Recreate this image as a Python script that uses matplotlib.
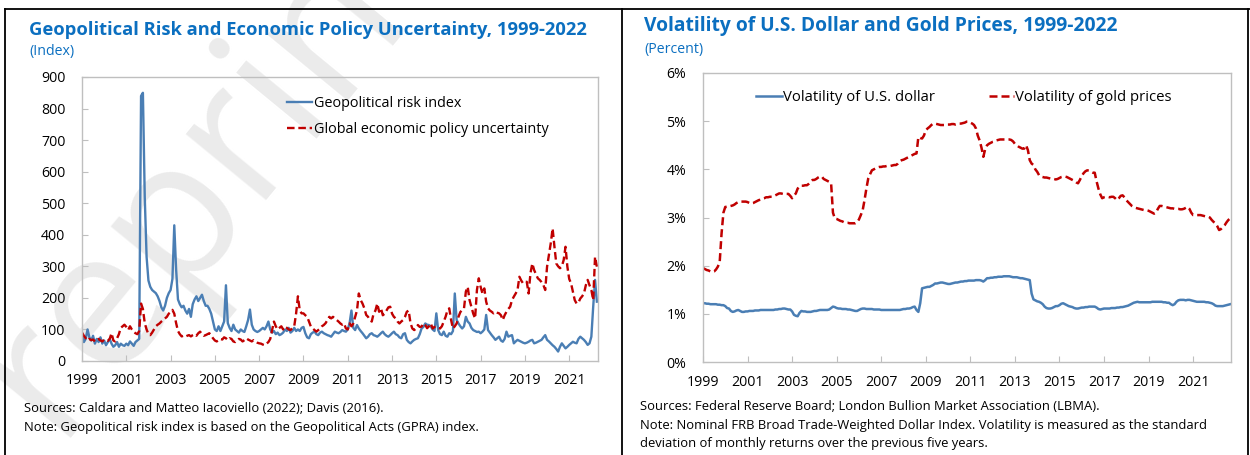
import numpy as np
import matplotlib.pyplot as plt
from matplotlib.lines import Line2D

plt.rcParams['font.family'] = ['Open Sans', 'DejaVu Sans']

# monthly, Jan 1999 - Apr 2022
gpr = [
    85, 60, 70, 100, 75, 65, 80, 55, 70, 60, 75, 55,            # 1999
    65, 50, 60, 70, 55, 45, 50, 60, 45, 55, 50, 48,             # 2000
    55, 50, 62, 55, 48, 60, 65, 70, 840, 850, 520, 330,         # 2001
    255, 235, 225, 220, 215, 205, 190, 170, 160, 175, 200, 215, # 2002
    225, 260, 430, 290, 195, 180, 170, 175, 160, 150, 165, 140, # 2003
    180, 195, 205, 190, 200, 210, 190, 175, 175, 165, 150, 125, # 2004
    100, 95, 110, 95, 110, 125, 240, 120, 105, 95, 115, 100,    # 2005
    95, 90, 100, 95, 92, 110, 130, 163, 115, 100, 95, 92,       # 2006
    95, 100, 105, 100, 110, 125, 100, 90, 95, 85, 90, 82,       # 2007
    85, 90, 100, 95, 105, 90, 95, 105, 95, 100, 95, 105,        # 2008
    108, 88, 75, 72, 85, 90, 93, 85, 82, 90, 93, 88,            # 2009
    85, 82, 80, 77, 85, 93, 90, 88, 92, 98, 95, 93,             # 2010
    100, 120, 160, 105, 98, 114, 103, 95, 88, 80, 72, 77,       # 2011
    85, 88, 82, 80, 77, 82, 88, 93, 85, 80, 77, 82,             # 2012
    88, 93, 85, 82, 75, 72, 85, 88, 67, 60, 56, 62,             # 2013
    67, 70, 72, 85, 103, 108, 119, 115, 114, 109, 100, 95,      # 2014
    151, 98, 85, 82, 93, 80, 77, 88, 85, 95, 214, 130,          # 2015
    119, 110, 103, 110, 140, 125, 119, 105, 98, 95, 92, 93,     # 2016
    88, 93, 100, 146, 98, 90, 82, 75, 67, 72, 77, 65,           # 2017
    61, 70, 93, 77, 80, 82, 56, 62, 67, 64, 61, 58,             # 2018
    56, 58, 61, 65, 67, 56, 58, 61, 64, 67, 75, 82,             # 2019
    67, 62, 56, 50, 45, 38, 30, 45, 56, 48, 40, 45,             # 2020
    51, 56, 61, 58, 56, 70, 77, 72, 67, 60, 51, 56,             # 2021
    77, 172, 257, 188,                                          # 2022
]
epu = [
    90, 80, 72, 65, 70, 66, 68, 62, 66, 70, 65, 62,
    68, 66, 64, 70, 88, 65, 62, 72, 85, 105, 110, 115,
    108, 98, 110, 100, 92, 88, 85, 95, 182, 165, 120, 100,
    85, 82, 90, 100, 110, 115, 119, 125, 130, 135, 140, 150,
    155, 162, 150, 120, 95, 85, 78, 80, 77, 80, 82, 78,
    82, 85, 80, 88, 93, 85, 80, 82, 85, 88, 80, 72,
    65, 62, 66, 70, 68, 75, 72, 66, 72, 70, 62, 60,
    65, 70, 68, 62, 66, 72, 68, 65, 62, 66, 62, 58,
    56, 55, 52, 50, 55, 60, 70, 98, 125, 110, 100, 105,
    110, 100, 109, 105, 100, 98, 105, 110, 150, 205, 160, 151,
    151, 145, 140, 125, 109, 103, 98, 93, 98, 103, 110, 114,
    120, 130, 140, 135, 140, 135, 130, 125, 119, 115, 119, 103,
    100, 119, 110, 119, 140, 160, 214, 193, 182, 167, 146, 140,
    130, 125, 150, 160, 182, 156, 167, 145, 150, 160, 170, 172,
    150, 140, 135, 125, 119, 125, 130, 140, 156, 160, 120, 103,
    98, 103, 114, 108, 109, 119, 114, 104, 110, 119, 103, 108,
    109, 105, 103, 110, 125, 140, 160, 167, 130, 103, 110, 119,
    140, 155, 162, 167, 220, 235, 193, 172, 150, 135, 225, 262,
    235, 214, 230, 188, 167, 160, 156, 151, 156, 153, 151, 145,
    130, 145, 156, 165, 172, 193, 204, 214, 225, 267, 255, 246,
    250, 251, 214, 278, 309, 288, 275, 262, 257, 250, 241, 225,
    299, 335, 373, 420, 362, 309, 300, 294, 300, 320, 362, 299,
    260, 246, 220, 193, 182, 185, 198, 205, 214, 240, 257, 240,
    225, 193, 330, 299,
]

# monthly, Jan 1999 - Sep 2022 (percent)
usd_vol = [
    1.22, 1.22, 1.21, 1.21, 1.20, 1.20, 1.20, 1.20, 1.19, 1.19, 1.18, 1.18,
    1.16, 1.12, 1.11, 1.06, 1.04, 1.05, 1.07, 1.08, 1.06, 1.04, 1.04, 1.05,
    1.05, 1.06, 1.06, 1.06, 1.07, 1.07, 1.07, 1.08, 1.08, 1.08, 1.08, 1.08,
    1.08, 1.08, 1.08, 1.09, 1.09, 1.10, 1.10, 1.11, 1.11, 1.10, 1.09, 1.09,
    1.05, 0.98, 0.96, 0.95, 1.02, 1.06, 1.05, 1.05, 1.04, 1.04, 1.04, 1.05,
    1.06, 1.06, 1.07, 1.08, 1.08, 1.08, 1.08, 1.08, 1.09, 1.12, 1.15, 1.14,
    1.12, 1.11, 1.11, 1.10, 1.10, 1.10, 1.09, 1.09, 1.08, 1.07, 1.06, 1.06,
    1.08, 1.10, 1.11, 1.11, 1.10, 1.10, 1.10, 1.10, 1.09, 1.09, 1.09, 1.09,
    1.08, 1.08, 1.08, 1.08, 1.08, 1.08, 1.08, 1.08, 1.08, 1.08, 1.08, 1.09,
    1.10, 1.10, 1.11, 1.11, 1.12, 1.14, 1.15, 1.08, 1.04, 1.22, 1.53, 1.54,
    1.55, 1.56, 1.56, 1.58, 1.60, 1.63, 1.63, 1.64, 1.65, 1.65, 1.64, 1.63,
    1.62, 1.62, 1.63, 1.64, 1.65, 1.65, 1.66, 1.67, 1.67, 1.68, 1.68, 1.69,
    1.69, 1.69, 1.69, 1.70, 1.70, 1.70, 1.69, 1.67, 1.70, 1.74, 1.74, 1.75,
    1.75, 1.76, 1.76, 1.77, 1.77, 1.77, 1.78, 1.78, 1.78, 1.78, 1.77, 1.76,
    1.76, 1.76, 1.75, 1.74, 1.74, 1.73, 1.72, 1.71, 1.70, 1.42, 1.30, 1.28,
    1.26, 1.25, 1.23, 1.20, 1.15, 1.12, 1.11, 1.11, 1.12, 1.14, 1.16, 1.16,
    1.18, 1.21, 1.22, 1.20, 1.18, 1.16, 1.15, 1.14, 1.12, 1.11, 1.11, 1.12,
    1.13, 1.13, 1.14, 1.14, 1.15, 1.15, 1.15, 1.15, 1.13, 1.10, 1.09, 1.10,
    1.11, 1.11, 1.11, 1.11, 1.12, 1.12, 1.12, 1.13, 1.13, 1.14, 1.14, 1.15,
    1.16, 1.17, 1.19, 1.21, 1.23, 1.24, 1.25, 1.24, 1.24, 1.24, 1.24, 1.24,
    1.24, 1.24, 1.25, 1.25, 1.25, 1.25, 1.25, 1.25, 1.24, 1.24, 1.23, 1.23,
    1.20, 1.18, 1.20, 1.25, 1.28, 1.29, 1.29, 1.29, 1.28, 1.29, 1.29, 1.28,
    1.27, 1.26, 1.25, 1.25, 1.25, 1.25, 1.25, 1.24, 1.24, 1.23, 1.22, 1.20,
    1.17, 1.16, 1.16, 1.16, 1.16, 1.17, 1.18, 1.19, 1.20,
]
gold_vol = [
    1.95, 1.93, 1.91, 1.90, 1.88, 1.87, 1.88, 1.92, 1.98, 2.08, 2.67, 3.10,
    3.22, 3.22, 3.23, 3.24, 3.25, 3.27, 3.30, 3.32, 3.33, 3.33, 3.33, 3.33,
    3.32, 3.30, 3.29, 3.30, 3.32, 3.34, 3.36, 3.37, 3.39, 3.40, 3.42, 3.42,
    3.43, 3.43, 3.44, 3.46, 3.48, 3.50, 3.50, 3.49, 3.48, 3.49, 3.49, 3.45,
    3.40, 3.45, 3.50, 3.60, 3.65, 3.66, 3.66, 3.67, 3.67, 3.70, 3.74, 3.78,
    3.78, 3.80, 3.83, 3.85, 3.85, 3.80, 3.78, 3.76, 3.74, 3.71, 3.10, 2.98,
    2.97, 2.95, 2.93, 2.92, 2.90, 2.89, 2.89, 2.88, 2.88, 2.88, 2.88, 2.90,
    2.96, 3.05, 3.15, 3.36, 3.60, 3.81, 3.90, 3.98, 4.00, 4.02, 4.04, 4.05,
    4.05, 4.06, 4.06, 4.07, 4.07, 4.07, 4.08, 4.09, 4.09, 4.12, 4.17, 4.19,
    4.20, 4.22, 4.24, 4.26, 4.28, 4.30, 4.32, 4.33, 4.67, 4.65, 4.64, 4.70,
    4.81, 4.85, 4.88, 4.92, 4.95, 4.95, 4.94, 4.93, 4.92, 4.92, 4.92, 4.93,
    4.93, 4.93, 4.94, 4.94, 4.93, 4.94, 4.95, 4.95, 4.96, 4.97, 4.99, 4.99,
    4.97, 4.95, 4.92, 4.85, 4.70, 4.60, 4.45, 4.26, 4.42, 4.50, 4.53, 4.55,
    4.57, 4.58, 4.60, 4.61, 4.62, 4.62, 4.62, 4.62, 4.62, 4.62, 4.61, 4.58,
    4.53, 4.50, 4.47, 4.45, 4.43, 4.43, 4.50, 4.40, 4.19, 4.12, 4.09, 4.00,
    3.95, 3.88, 3.85, 3.84, 3.83, 3.83, 3.82, 3.81, 3.80, 3.80, 3.79, 3.80,
    3.82, 3.84, 3.85, 3.85, 3.84, 3.82, 3.80, 3.78, 3.76, 3.73, 3.71, 3.78,
    3.86, 3.92, 3.96, 3.98, 3.97, 3.95, 3.93, 3.93, 3.75, 3.60, 3.48, 3.40,
    3.42, 3.43, 3.43, 3.42, 3.43, 3.43, 3.40, 3.36, 3.40, 3.45, 3.46, 3.42,
    3.36, 3.32, 3.28, 3.24, 3.22, 3.20, 3.19, 3.18, 3.17, 3.16, 3.15, 3.15,
    3.14, 3.12, 3.10, 3.08, 3.10, 3.18, 3.24, 3.24, 3.23, 3.22, 3.21, 3.20,
    3.19, 3.19, 3.18, 3.18, 3.18, 3.17, 3.17, 3.18, 3.20, 3.22, 3.18, 3.10,
    3.05, 3.05, 3.05, 3.05, 3.05, 3.04, 3.03, 3.02, 3.02, 3.00, 2.95, 2.91,
    2.88, 2.82, 2.74, 2.76, 2.80, 2.84, 2.90, 2.95, 2.98,
]

year_ticks = list(range(1999, 2022, 2))
left_yticks = list(range(0, 1000, 100))
right_yticks = [0, 1, 2, 3, 4, 5, 6]

BLUE = '#4A7EB4'
RED = '#C00000'
TITLE_BLUE = '#0B6FC0'
GRID = '#BFBFBF'
dash = (0, (3.2, 1.6))

x_left = 1999 + np.arange(len(gpr)) / 12
x_right = 1999 + np.arange(len(gold_vol)) / 12

W, H = 1250, 455
fig = plt.figure(figsize=(12.5, 4.55), dpi=100)

def fx(px):
    return px / W

def fy(py):
    return 1 - py / H

# watermark
fig.text(fx(176), fy(207), 'Preprint', rotation=50.6, fontsize=140,
         color='#EBEBEB', ha='center', va='center', zorder=-5)

# panel frames
for xs, ys in [([5, 1250], [9, 9]), ([5, 5], [9, 455]), ([622, 622], [9, 455]),
               ([1248, 1248], [9, 455])]:
    fig.add_artist(Line2D([fx(v) for v in xs], [fy(v) for v in ys],
                          color='black', lw=1.3))

def style_axes(ax):
    ax.set_facecolor('none')
    for s in ax.spines.values():
        s.set_color(GRID)
        s.set_linewidth(1.0)
    ax.tick_params(direction='in', length=4, color=GRID, labelsize=10.2,
                   labelcolor='black')
    ax.tick_params(axis='y', pad=12)
    ax.tick_params(axis='x', pad=9)
    ax.set_xticks(year_ticks)
    ax.set_xticklabels([str(y) for y in year_ticks])

# left chart
ax1 = fig.add_axes([fx(82), fy(361), fx(598 - 82), (361 - 77) / H])
style_axes(ax1)
ax1.plot(x_left, gpr, color=BLUE, lw=1.7, label='Geopolitical risk index')
ax1.plot(x_left, epu, color=RED, lw=1.7, ls=dash,
         label='Global economic policy uncertainty')
ax1.set_xlim(1999, 2022.3)
ax1.set_ylim(0, 900)
ax1.set_yticks(left_yticks)
ax1.legend(loc='upper left', bbox_to_anchor=(0.383, 0.957), frameon=False,
           fontsize=10.4, handlelength=1.75, handletextpad=0.1, borderpad=0,
           labelspacing=0.75)

fig.text(fx(29), fy(30), 'Geopolitical Risk and Economic Policy Uncertainty, 1999-2022',
         fontsize=13.25, fontweight='bold', color=TITLE_BLUE, va='center')
fig.text(fx(29), fy(51), '(Index)', fontsize=10.2, color=TITLE_BLUE, va='center')
fig.text(fx(24), fy(409), 'Sources: Caldara and Matteo Iacoviello (2022); Davis (2016).',
         fontsize=9.4, va='center')
fig.text(fx(24), fy(428), 'Note: Geopolitical risk index is based on the Geopolitical Acts (GPRA) index.',
         fontsize=9.4, va='center')

# right chart
ax2 = fig.add_axes([fx(703), fy(362), fx(1231 - 703), (362 - 73) / H])
style_axes(ax2)
ax2.plot(x_right, usd_vol, color=BLUE, lw=1.8, label='Volatility of U.S. dollar')
ax2.plot(x_right, gold_vol, color=RED, lw=1.8, ls=dash,
         label='Volatility of gold prices')
ax2.set_xlim(1999, 2022.7)
ax2.set_ylim(0, 6)
ax2.set_yticks(right_yticks)
ax2.set_yticklabels([f'{v}%' for v in right_yticks])
ax2.legend(loc='upper left', bbox_to_anchor=(0.087, 0.967), frameon=False,
           fontsize=10.7, ncol=2, handlelength=1.7, handletextpad=0.1,
           borderpad=0, columnspacing=3.6)

fig.text(fx(644), fy(26), 'Volatility of U.S. Dollar and Gold Prices, 1999-2022',
         fontsize=13.9, fontweight='bold', color=TITLE_BLUE, va='center')
fig.text(fx(644), fy(49), '(Percent)', fontsize=10.2, color=TITLE_BLUE, va='center')
fig.text(fx(640), fy(407), 'Sources: Federal Reserve Board; London Bullion Market Association (LBMA).',
         fontsize=9.4, va='center')
fig.text(fx(640), fy(425), 'Note: Nominal FRB Broad Trade-Weighted Dollar Index. Volatility is measured as the standard',
         fontsize=9.4, va='center')
fig.text(fx(640), fy(443), 'deviation of monthly returns over the previous five years.',
         fontsize=9.4, va='center')

fig.savefig('out.png', dpi=100)
